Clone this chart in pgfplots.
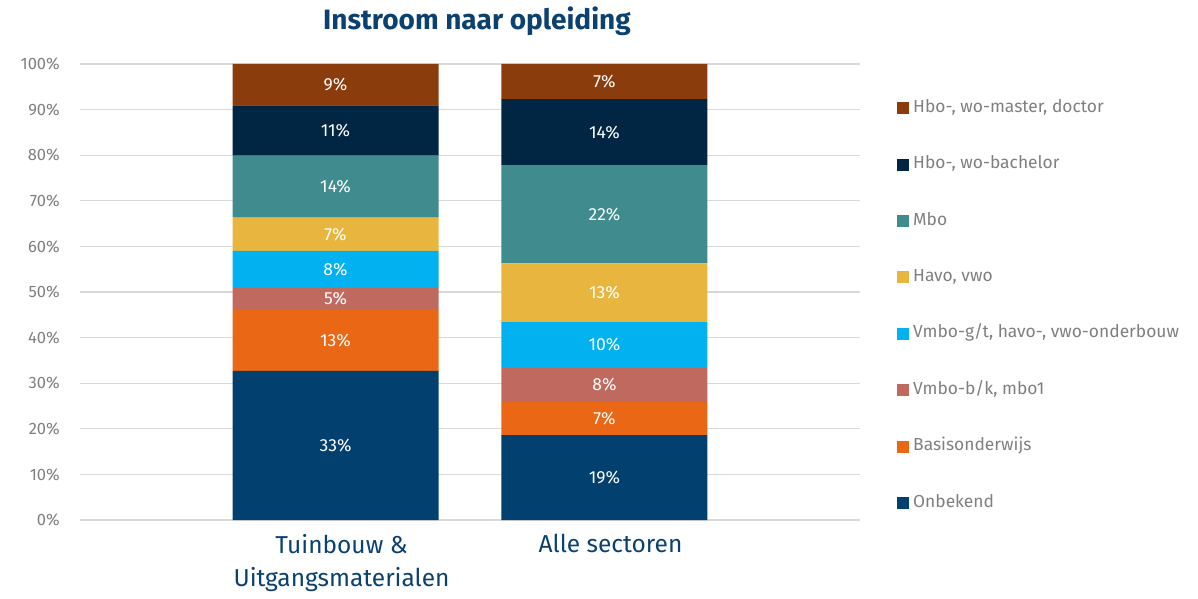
\documentclass[border=0pt]{standalone}
\usepackage{fontspec}
\setmainfont{Fira Sans}
\usepackage{pgfplots}
\pgfplotsset{compat=1.18}
\definecolor{cOnb}{HTML}{01406F}
\definecolor{cBas}{HTML}{E96715}
\definecolor{cVbk}{HTML}{C06A5F}
\definecolor{cVgt}{HTML}{02B1F0}
\definecolor{cHav}{HTML}{E8B63E}
\definecolor{cMbo}{HTML}{3F8B8E}
\definecolor{cBac}{HTML}{002644}
\definecolor{cMas}{HTML}{8B3C0C}
\definecolor{cTitle}{HTML}{0B4170}
\definecolor{cGrid}{HTML}{D9D9D9}
\definecolor{cTick}{HTML}{7F7F7F}
\begin{document}
\begin{tikzpicture}
\begin{axis}[
  at={(0pt,0pt)}, anchor=south west,
  scale only axis, width=780pt, height=456pt,
  ymin=0, ymax=100, xmin=-0.95, xmax=1.95,
  ybar stacked, bar width=206pt,
  axis line style={draw=none},
  major tick length=0pt,
  ymajorgrids, grid style={draw=cGrid, line width=1.3pt},
  ytick={0,10,...,100},
  yticklabel={\pgfmathprintnumber{\tick}\%},
  /pgf/number format/assume math mode=true,
  yticklabel style={font=\fontsize{16.5}{19}\selectfont, text=cTick, inner sep=0pt, anchor=east, xshift=-20pt},
  xtick={0,1},
  xticklabels={{Tuinbouw \&\\Uitgangsmaterialen}, {Alle sectoren}},
  xticklabel style={align=center, font=\fontsize{24.5}{33}\selectfont, text=cTitle, inner sep=0pt, anchor=north, yshift=-14pt, xshift=6pt},
  title={Instroom naar opleiding},
  title style={font=\bfseries\fontsize{28}{34}\selectfont, text=cTitle, at={(0.5,1)}, anchor=base, yshift=28pt, xshift=7pt, inner sep=0pt},
  point meta=explicit symbolic,
  nodes near coords,
  every node near coord/.append style={font=\fontsize{17.5}{20}\selectfont, text=white, anchor=center, inner sep=0pt},
  legend style={at={(1.0474,0.921)}, anchor=north west, draw=none, fill=none,
    font=\fontsize{17.4}{20}\selectfont, text=cTick, row sep=40.4pt, column sep=4pt, inner sep=0pt,
    nodes={inner sep=0pt, text height=12pt, text depth=4pt}},
  legend cell align=left,
  reverse legend,
  legend image code/.code={\fill[#1] (0pt,-6pt) rectangle (12pt,6pt);},
]
\addplot[fill=cOnb, draw=none] coordinates {(0,32.7) [33\%] (1,18.6) [19\%]};
\addplot[fill=cBas, draw=none] coordinates {(0,13.4) [13\%] (1,7.3) [7\%]};
\addplot[fill=cVbk, draw=none] coordinates {(0,4.8) [5\%] (1,7.6) [8\%]};
\addplot[fill=cVgt, draw=none] coordinates {(0,8.1) [8\%] (1,9.9) [10\%]};
\addplot[fill=cHav, draw=none] coordinates {(0,7.3) [7\%] (1,12.9) [13\%]};
\addplot[fill=cMbo, draw=none] coordinates {(0,13.6) [14\%] (1,21.5) [22\%]};
\addplot[fill=cBac, draw=none] coordinates {(0,11.0) [11\%] (1,14.5) [14\%]};
\addplot[fill=cMas, draw=none] coordinates {(0,9.1) [9\%] (1,7.7) [7\%]};
\legend{Onbekend, Basisonderwijs, {Vmbo-b/k, mbo1}, {Vmbo-g/t, havo-, vwo-onderbouw}, {Havo, vwo}, Mbo, {Hbo-, wo-bachelor}, {Hbo-, wo-master, doctor}}
\end{axis}
\path (-80pt,-78pt) rectangle (1118pt,520pt);
\end{tikzpicture}
\end{document}
